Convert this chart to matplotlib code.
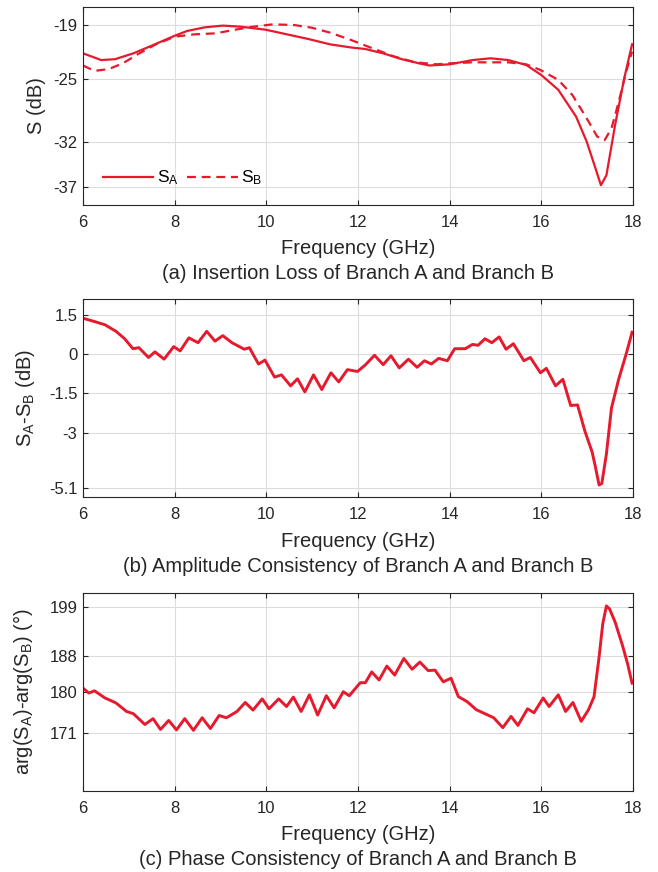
import matplotlib
matplotlib.use("Agg")
import matplotlib.pyplot as plt

plt.rcParams["font.family"] = ["Liberation Sans", "DejaVu Sans"]
plt.rcParams["mathtext.default"] = "regular"

RED = "#E6192D"
AX_COLOR = "#262626"
GRID_COLOR = "#dcdcdc"

# ---- (a) insertion loss, dB ----
freq_a = [6.0, 6.4, 6.7, 7.1, 7.5, 8.0, 8.27, 8.66, 9.05, 9.44, 9.98, 10.45,
          10.92, 11.39, 11.85, 12.16, 12.55, 12.94, 13.33, 13.56, 14.0, 14.5,
          14.89, 15.28, 15.67, 16.0, 16.37, 16.76, 16.99, 17.18, 17.3, 17.42,
          17.61, 17.81, 17.98]
s_a = [-22.15, -22.9, -22.8, -22.15, -21.3, -20.2, -19.67, -19.26, -19.07,
       -19.19, -19.52, -20.04, -20.56, -21.15, -21.5, -21.67, -22.15, -22.78,
       -23.26, -23.5, -23.37, -22.9, -22.7, -22.9, -23.44, -24.56, -26.2,
       -29.2, -31.96, -34.9, -36.8, -35.7, -30.1, -24.9, -21.15]

freq_b = [6.0, 6.25, 6.56, 6.87, 7.18, 7.57, 8.0, 8.43, 8.89, 9.28, 9.67,
          10.14, 10.6, 10.99, 11.39, 11.85, 12.32, 12.79, 13.25, 13.72, 14.0,
          14.5, 14.89, 15.28, 15.67, 15.98, 16.37, 16.68, 16.99, 17.22, 17.38,
          17.53, 17.69, 17.85, 17.98]
s_b = [-23.5, -24.1, -23.9, -23.26, -22.3, -21.2, -20.3, -20.04, -19.93,
       -19.56, -19.22, -18.93, -19.0, -19.3, -19.85, -20.67, -21.6, -22.5,
       -23.15, -23.37, -23.26, -23.15, -23.15, -23.15, -23.37, -24.0, -25.1,
       -26.8, -29.37, -31.4, -31.8, -30.5, -27.5, -24.2, -21.96]

# ---- (b) amplitude difference, dB ----
freq_d = [6.0, 6.25, 6.48, 6.72, 6.91, 7.09, 7.22, 7.43, 7.57, 7.77, 7.98,
          8.12, 8.31, 8.51, 8.7, 8.88, 9.05, 9.25, 9.52, 9.63, 9.83, 9.97,
          10.18, 10.33, 10.53, 10.68, 10.84, 11.03, 11.21, 11.41, 11.58, 11.77,
          11.99, 12.16, 12.36, 12.55, 12.72, 12.9, 13.1, 13.29, 13.45, 13.6,
          13.76, 13.95, 14.11, 14.34, 14.5, 14.62, 14.77, 14.92, 15.08, 15.23,
          15.39, 15.62, 15.76, 15.98, 16.11, 16.31, 16.47, 16.64, 16.79, 16.95,
          17.11, 17.18, 17.26, 17.32, 17.42, 17.53, 17.69, 17.85, 17.98]
diff_db = [1.375, 1.25, 1.125, 0.875, 0.59, 0.21, 0.25, -0.125, 0.09, -0.19,
           0.29, 0.125, 0.625, 0.44, 0.875, 0.5, 0.71, 0.44, 0.19, 0.25,
           -0.375, -0.225, -0.875, -0.79, -1.21, -0.94, -1.44, -0.79, -1.35,
           -0.71, -1.06, -0.59, -0.66, -0.41, -0.04, -0.4, -0.06, -0.525,
           -0.19, -0.5, -0.25, -0.375, -0.16, -0.25, 0.21, 0.21, 0.375, 0.34,
           0.59, 0.44, 0.66, 0.19, 0.4, -0.25, -0.125, -0.71, -0.54, -1.21,
           -0.96, -1.96, -1.94, -2.94, -3.75, -4.31, -5.0, -4.94, -3.81, -2.06,
           -0.94, 0.0, 0.84]

# ---- (c) phase difference, deg ----
freq_p = [6.0, 6.13, 6.25, 6.48, 6.72, 6.95, 7.1, 7.35, 7.53, 7.69, 7.87,
          8.04, 8.22, 8.41, 8.6, 8.78, 8.97, 9.13, 9.36, 9.54, 9.71, 9.91,
          10.06, 10.27, 10.44, 10.59, 10.76, 10.94, 11.12, 11.31, 11.48, 11.68,
          11.81, 12.05, 12.16, 12.3, 12.46, 12.63, 12.8, 13.0, 13.18, 13.35,
          13.53, 13.68, 13.86, 14.03, 14.19, 14.38, 14.58, 14.77, 14.96, 15.16,
          15.34, 15.49, 15.7, 15.84, 16.04, 16.17, 16.37, 16.53, 16.69, 16.87,
          17.03, 17.15, 17.26, 17.34, 17.42, 17.49, 17.61, 17.77, 17.88, 17.98]
phase = [180.9, 179.8, 180.3, 178.7, 177.6, 175.7, 175.2, 172.8, 174.1, 171.7,
         173.7, 171.6, 174.1, 171.5, 174.3, 171.9, 174.8, 174.3, 175.7, 177.7,
         176.0, 178.5, 176.3, 178.5, 176.8, 178.9, 175.7, 179.4, 174.9, 179.2,
         176.5, 180.1, 179.2, 182.1, 182.1, 184.5, 182.7, 185.8, 183.8, 187.5,
         185.1, 186.7, 184.8, 184.9, 182.3, 183.1, 179.0, 177.9, 176.1, 175.2,
         174.3, 172.1, 174.6, 172.6, 176.3, 175.4, 178.7, 176.8, 179.4, 175.7,
         177.7, 173.5, 176.1, 179.0, 187.8, 195.2, 199.2, 198.5, 195.6, 190.4,
         186.4, 182.0]

x_ticks = [6, 8, 10, 12, 14, 16, 18]


def style_axes(ax, yticks, ylim, ylabel, caption, ylab_x):
    ax.set_xlim(6, 18)
    ax.set_ylim(*ylim)
    ax.set_xticks(x_ticks)
    ax.set_yticks(yticks)
    ax.set_yticklabels([str(t) for t in yticks])
    ax.grid(True, color=GRID_COLOR, linewidth=0.8)
    ax.set_axisbelow(True)
    ax.tick_params(direction="in", top=True, right=True, length=3.5,
                   width=0.8, colors=AX_COLOR, labelsize=12)
    ax.tick_params(axis="x", pad=7)
    ax.tick_params(axis="y", pad=4)
    for sp in ax.spines.values():
        sp.set_color(AX_COLOR)
        sp.set_linewidth(0.8)
    ax.set_xlabel("Frequency (GHz)", fontsize=14.5, color=AX_COLOR, va="center")
    ax.xaxis.set_label_coords(0.5, -0.222)
    ax.set_ylabel(ylabel, fontsize=14.5, color=AX_COLOR, va="center")
    ax.yaxis.set_label_coords(ylab_x, 0.5)
    ax.text(0.5, -0.347, caption, transform=ax.transAxes, fontsize=14.5,
            color=AX_COLOR, ha="center", va="center")


fig = plt.figure(figsize=(6.58, 8.72), dpi=100, facecolor="white")

ax1 = fig.add_axes([0.1261, 0.7649, 0.8359, 0.2271])
ax1.plot(freq_a, s_a, color=RED, lw=1.6, solid_joinstyle="round", label="S$_A$")
ax1.plot(freq_b, s_b, color=RED, lw=1.6, ls="--", dashes=(4, 2.6), label="S$_B$")
style_axes(ax1, [-37, -32, -25, -19], (-39, -17), "S (dB)",
           "(a) Insertion Loss of Branch A and Branch B", -0.085)
ax1.legend(loc="lower left", bbox_to_anchor=(0.024, 0.054), ncol=2,
           frameon=False, borderaxespad=0, fontsize=12.5, handlelength=2.9,
           columnspacing=0.5, handletextpad=0.2)

ax2 = fig.add_axes([0.1261, 0.4297, 0.8359, 0.2271])
ax2.plot(freq_d, diff_db, color=RED, lw=2.1, solid_joinstyle="round")
style_axes(ax2, [-5.1, -3, -1.5, 0, 1.5], (-5.47, 2.1), "S$_A$-S$_B$ (dB)",
           "(b) Amplitude Consistency of Branch A and Branch B", -0.104)

ax3 = fig.add_axes([0.1261, 0.0929, 0.8359, 0.2267])
ax3.plot(freq_p, phase, color=RED, lw=2.1, solid_joinstyle="round")
style_axes(ax3, [171, 180, 188, 199], (158, 202), "arg(S$_A$)-arg(S$_B$) (°)",
           "(c) Phase Consistency of Branch A and Branch B", -0.109)

fig.savefig("out.png", dpi=100)
